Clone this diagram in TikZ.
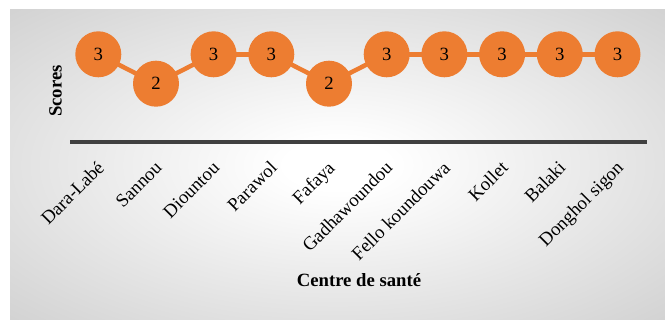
\documentclass[tikz,border=0pt]{standalone}
\usepackage{fontspec}
\setmainfont{Liberation Serif}
\definecolor{bgedge}{RGB}{190,190,190}
\definecolor{dotorange}{RGB}{237,125,49}
\definecolor{axisgray}{RGB}{64,64,64}
\pgfdeclareradialshading{panelshade}{\pgfpoint{0bp}{0bp}}{color(0bp)=(white); color(4bp)=(white); color(50bp)=(bgedge)}
\begin{document}
\begin{tikzpicture}[x=1pt,y=-1pt,
  dot/.style={circle,fill=dotorange,draw=none,minimum size=46pt,inner sep=0pt,font=\fontsize{18.7}{20}\selectfont},
  link/.style={draw=dotorange,line width=4.5pt},
  cat/.style={rotate=45,anchor=base east,inner sep=0pt,font=\fontsize{18.7}{20}\selectfont},
  ttl/.style={font=\fontsize{18.7}{20}\selectfont\bfseries,inner sep=0pt}]
\useasboundingbox (0,0) rectangle (665,320);
\shade[shading=panelshade] (10,10) rectangle (665,320);
% axis
\coordinate (axL) at (70,142.5);
\coordinate (axR) at (647,142.5);
\draw[axisgray,line width=4pt] (axL) -- (axR);
% points
\foreach \i/\x/\v in {1/98.3/3,2/156/2,3/213.6/3,4/271.3/3,5/329/2,6/386.7/3,7/444.4/3,8/502.1/3,9/559.8/3,10/617.5/3}{
  \coordinate (c\i) at (\x,{142.5-29.4*\v});
}
\foreach \i/\j in {1/2,2/3,3/4,4/5,5/6,6/7,7/8,8/9,9/10}{
  \draw[link] (c\i) -- (c\j);
}
\foreach \i/\v in {1/3,2/2,3/3,4/3,5/2,6/3,7/3,8/3,9/3,10/3}{
  \node[dot] (p\i) at (c\i) {\v};
}
% category labels
\foreach \i/\x/\t in {1/98.3/Dara-Labé,2/156/Sannou,3/213.6/Diountou,4/271.3/Parawol,5/329/Fafaya,6/386.7/Gadhawoundou,7/444.4/Fello koundouwa,8/502.1/Kollet,9/559.8/Balaki,10/617.5/Donghol sigon}{
  \node[cat] (l\i) at (\x+7,169) {\t};
}
\node[ttl,rotate=90] (ylab) at (55.5,91) {Scores};
\node[ttl,anchor=base] (xlab) at (359,287) {Centre de santé};
\end{tikzpicture}
\end{document}
